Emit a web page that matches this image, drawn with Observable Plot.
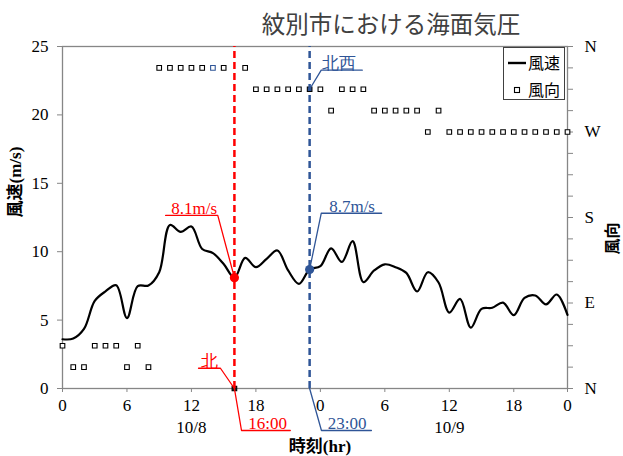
<!DOCTYPE html>
<html><head><meta charset="utf-8">
<script src="https://cdn.jsdelivr.net/npm/d3@7"></script>
<script src="https://cdn.jsdelivr.net/npm/@observablehq/plot@0.6"></script>
<style>
body{margin:0;background:#fff;}
#chart{position:relative;width:623px;height:456px;overflow:hidden;}
#legend{position:absolute;left:503px;top:47px;width:62px;height:53px;border:1px solid #404040;background:#fff;box-sizing:border-box;font-family:'Noto Sans CJK JP',sans-serif;font-size:16px;}
#legend .row{position:absolute;left:0;height:20px;line-height:20px;}
</style></head><body><div id="chart"></div>
<script>
// ---- data ----
const hours = [0,1,2,3,4,5,6,7,8,9,10,11,12,13,14,15,16,17,18,19,20,21,22,23,
               24,25,26,27,28,29,30,31,32,33,34,35,36,37,38,39,40,41,42,43,44,45,46,47];
const speed = [3.6,3.65,4.35,6.4,7.1,7.55,5.15,7.48,7.53,8.5,11.95,11.45,11.84,10.2,9.9,9.1,
               8.1,9.55,8.87,9.48,10.09,8.63,7.65,8.7,8.94,10.25,9.25,10.77,7.78,8.63,9.08,8.87,
               8.45,7.09,8.5,7.75,5.55,6.55,4.45,5.82,5.9,6.28,5.36,6.62,6.8,6.15,6.87,5.38];
// wind direction as 16-point compass index (0 = N, 4 = E, 8 = S, 12 = W, 16 = N)
const direction = [2,1,1,2,2,2,1,2,1,15,15,15,15,15,15,15,0,15,14,14,14,14,14,14,
                   14,13,14,14,14,13,13,13,13,13,12,13,12,12,12,12,12,12,12,12,12,12,12,12];
const speedTicks = [0,5,10,15,20,25];
const dirTickIdx = [0,1,2,3,4,5,6,7,8,9,10,11,12,13,14,15,16];
const dirLabelIdx = [0,4,8,12,16];
const dirLabels = ["N","E","S","W","N"];
const hourTicks = [0,6,12,18,24,30,36,42,47];
const hourTickLabels = ["0","6","12","18","0","6","12","18","0"];
const dateHours = [12,36];
const dateLabels = ["10/8","10/9"];
const markHours = [16,23];           // highlighted times
const markTimeLabels = ["16:00","23:00"];
const markDirLabels = ["北","北西"];
const markSpeedLabels = ["8.1m/s","8.7m/s"];

// ---- helpers ----
const DIRMAX = 16, YMAX = 25;
const d2v = i => i * YMAX / DIRMAX;
const rows = hours.map((h,i)=>({h, v: speed[i], d: direction[i]}));
const red = "#FF0000", blue = "#2F5597";
const serif = "'Liberation Serif','Noto Sans CJK JP',serif";
const cjk = "'Noto Sans CJK JP','Liberation Serif',sans-serif";
const rowAt = h => rows[hours.indexOf(h)];

// annotation leader geometry (chart units: hours, m/s)
const leaders = [
  {c: red,  pts: [[markHours[0], rowAt(markHours[0]).v],[14.45,12.65],[9.6,12.65]]},
  {c: red,  pts: [[markHours[0], d2v(rowAt(markHours[0]).d)],[14.7,1.48],[12.66,1.48]]},
  {c: red,  pts: [[markHours[0], 0],[16.66,-3.07],[21.2,-3.07]]},
  {c: blue, pts: [[markHours[1], rowAt(markHours[1]).v],[24.08,12.81],[29.7,12.81]]},
  {c: blue, pts: [[markHours[1], d2v(rowAt(markHours[1]).d)],[24.08,23.27],[27.9,23.27]]},
  {c: blue, pts: [[markHours[1], 0],[24.1,-3.07],[28.75,-3.07]]}
];
const annoText = [
  {t: markSpeedLabels[0], x: 12.25, y: 12.65, c: red,  f: serif},
  {t: markDirLabels[0],   x: 13.68, y: 1.48,  c: red,  f: cjk},
  {t: markTimeLabels[0],  x: 19.1,  y: -3.07, c: red,  f: serif},
  {t: markSpeedLabels[1], x: 26.95, y: 12.81, c: blue, f: serif},
  {t: markDirLabels[1],   x: 25.7,  y: 23.27, c: blue, f: cjk},
  {t: markTimeLabels[1],  x: 26.5,  y: -3.07, c: blue, f: serif}
];
const leaderPts = leaders.flatMap((l,k)=>l.pts.map(p=>({x:p[0], y:p[1], k, c:l.c})));

const chart = Plot.plot({
  width: 623, height: 456,
  marginLeft: 62, marginRight: 56, marginTop: 46, marginBottom: 68,
  x: {domain: [0,47]},
  y: {domain: [0,YMAX]},
  style: {fontFamily: serif, fontSize: "17px", color: "black", background: "white", overflow: "visible"},
  marks: [
    Plot.frame({stroke: "#868686", strokeWidth: 1.3}),
    Plot.axisY({anchor: "left", ticks: speedTicks, tickSize: 5, tickPadding: 9, stroke: "#868686", fill: "black", label: null, fontSize: 17}),
    Plot.axisY({anchor: "right", ticks: dirTickIdx.map(d2v), tickSize: 5, tickPadding: 12, stroke: "#868686", fill: "black", label: null, fontSize: 17,
      tickFormat: v => { const k = dirLabelIdx.indexOf(Math.round(v*DIRMAX/YMAX)); return k >= 0 ? dirLabels[k] : ""; }}),
    Plot.axisX({ticks: hourTicks, tickSize: 4, tickPadding: 6, stroke: "#868686", fill: "black", label: null, fontSize: 17,
      tickFormat: h => hourTickLabels[hourTicks.indexOf(h)]}),
    Plot.text(dateLabels, {x: (d,i)=>dateHours[i], y: () => 0, text: d => d, dy: 39, fontSize: 17, fill: "black"}),
    // wind speed line
    Plot.line(rows, {x: "h", y: "v", stroke: "black", strokeWidth: 2.2, curve: "catmull-rom"}),
    // wind direction markers
    Plot.dot(rows, {x: "h", y: d => d2v(d.d), symbol: "square", r: 2.6, stroke: d => d.h === 14 ? blue : "black", strokeWidth: 1.1,
      fill: d => d.h === markHours[1] ? blue : d.h === markHours[0] ? "#222" : "white"}),
    // highlighted times
    Plot.ruleX([markHours[0]], {x: d => d, y1: () => 0, y2: () => YMAX, stroke: red, strokeWidth: 2.5, strokeDasharray: "7,4"}),
    Plot.ruleX([markHours[1]], {x: d => d, y1: () => 0, y2: () => YMAX, stroke: blue, strokeWidth: 2.5, strokeDasharray: "7,4"}),
    Plot.line(leaderPts, {x: "x", y: "y", z: "k", stroke: "c", strokeWidth: 1.3}),
    Plot.dot(markHours.map(h => rowAt(h)), {x: "h", y: "v", r: 4.6, fill: (d,i) => i === 0 ? red : blue, stroke: "none"}),
    Plot.text(annoText, {x: "x", y: "y", text: "t", fill: "c", fontFamily: "f", fontSize: 17, lineAnchor: "bottom", dy: -1}),
    // titles
    Plot.text(["紋別市における海面気圧"], {frameAnchor: "top", dx: 76, dy: -21, fontSize: 23.5, fill: "#404040", fontFamily: cjk, lineAnchor: "middle"}),
    Plot.text(["風速(m/s)"], {frameAnchor: "left", dx: -47, rotate: -90, fontWeight: "bold", fontSize: 17, fill: "black"}),
    Plot.text(["風向"], {frameAnchor: "right", dx: 45, dy: 5, rotate: -90, fontWeight: "bold", fontSize: 16, fill: "black", fontFamily: cjk}),
    Plot.text(["時刻(hr)"], {frameAnchor: "bottom", dx: 5, dy: 63, fontWeight: "bold", fontSize: 17, fill: "black"})
  ]
});
const host = document.getElementById("chart");
host.appendChild(chart);

// legend box
const lg = document.createElement("div");
lg.id = "legend";
lg.innerHTML = `
  <div class="row" style="top:5px;left:3px;"><svg width="20" height="20" style="vertical-align:top"><line x1="1" y1="10" x2="19" y2="10" stroke="black" stroke-width="2.4"/></svg></div>
  <div class="row" style="top:4px;left:24px;">風速</div>
  <div class="row" style="top:32px;left:3px;"><svg width="20" height="20" style="vertical-align:top"><rect x="7.5" y="7.5" width="5" height="5" fill="white" stroke="black" stroke-width="1.1"/></svg></div>
  <div class="row" style="top:31px;left:24px;">風向</div>`;
host.appendChild(lg);
</script>
</body></html>
